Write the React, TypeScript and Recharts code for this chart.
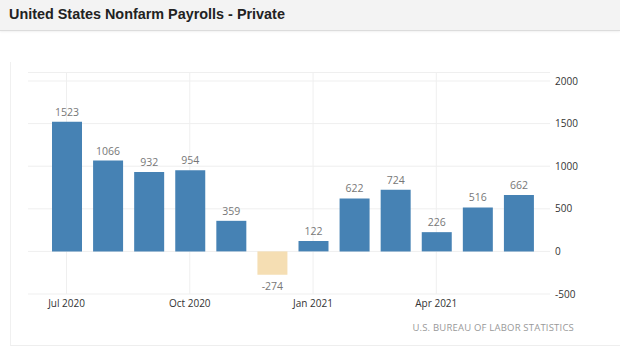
import { BarChart, Bar, XAxis, YAxis, CartesianGrid, Cell, LabelList } from "recharts";

const months = [
  "Jul 2020", "Aug 2020", "Sep 2020", "Oct 2020", "Nov 2020", "Dec 2020",
  "Jan 2021", "Feb 2021", "Mar 2021", "Apr 2021", "May 2021", "Jun 2021",
];
const payrolls = [1523, 1066, 932, 954, 359, -274, 122, 622, 724, 226, 516, 662];
const monthTicks = ["Jul 2020", "Oct 2020", "Jan 2021", "Apr 2021"];
const valueTicks = [-500, 0, 500, 1000, 1500, 2000];

const data = months.map((m, i) => ({ month: m, value: payrolls[i] }));

const FONT = "'Open Sans', 'DejaVu Sans', sans-serif";

function ValueLabel(props: any) {
  const { x, y, width, height, value } = props;
  const top = Math.min(y, y + height);
  const bottom = Math.max(y, y + height);
  const cx = x + width / 2;
  const ty = value < 0 ? bottom + 15 : top - 6;
  return (
    <text x={cx} y={ty} textAnchor="middle" fill="#777" fontSize={10.5} fontFamily={FONT}>
      {value}
    </text>
  );
}

export default function App() {
  return (
    <div style={{ position: "absolute", left: 0, top: 0, width: 620, height: 352, background: "#fff", overflow: "hidden" }}>
      <div
        style={{
          position: "absolute", left: 0, top: 0, width: 620, height: 30,
          background: "#f3f3f3", borderBottom: "1px solid #dcdcdc",
          boxShadow: "0 1px 2px rgba(0,0,0,0.06)",
        }}
      >
        <div
          style={{
            position: "absolute", left: 9, top: 6,
            fontFamily: "'Liberation Sans', Arial, sans-serif", fontWeight: "bold",
            fontSize: 14.4, color: "#222",
          }}
        >
          United States Nonfarm Payrolls - Private
        </div>
      </div>
      <div
        style={{
          position: "absolute", left: 10, top: 62, width: 620, height: 283,
          borderLeft: "1px solid #f0f0f0", borderBottom: "1px solid #eeeeee",
        }}
      />
      <div style={{ position: "absolute", left: 0, top: 0 }}>
        <BarChart
          width={620}
          height={352}
          data={data}
          margin={{ top: 72.5, right: 20, bottom: 28, left: 28 }}
        >
          <CartesianGrid stroke="#efefef" verticalValues={monthTicks} />
          <XAxis
            dataKey="month"
            ticks={monthTicks}
            interval={0}
            height={30}
            padding={{ left: 18, right: 11 }}
            axisLine={false}
            tickLine={false}
            tickMargin={0}
            tick={{ fontSize: 10, fill: "#333", fontFamily: FONT }}
          />
          <YAxis
            orientation="right"
            width={50}
            domain={[-500, 2100]}
            ticks={valueTicks}
            axisLine={false}
            tickLine={false}
            tickSize={3}
            tickMargin={2}
            tick={{ fontSize: 10, fill: "#333", fontFamily: FONT, textAnchor: "start" }}
          />
          <Bar dataKey="value" barSize={30} isAnimationActive={false}>
            {data.map((d) => (
              <Cell key={d.month} fill={d.value < 0 ? "#f5deb3" : "#4682b4"} />
            ))}
            <LabelList dataKey="value" content={ValueLabel} />
          </Bar>
        </BarChart>
      </div>
      <div
        style={{
          position: "absolute", right: 46, top: 321,
          fontFamily: FONT, fontSize: 9.5, color: "#999", letterSpacing: 0.2,
        }}
      >
        U.S. BUREAU OF LABOR STATISTICS
      </div>
    </div>
  );
}
